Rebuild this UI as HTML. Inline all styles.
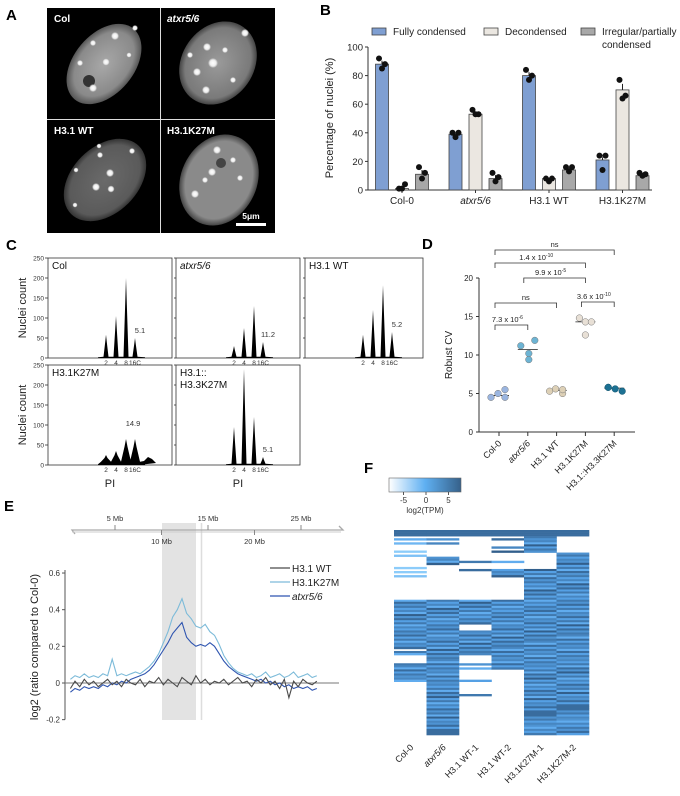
<!DOCTYPE html>
<html><head><meta charset="utf-8">
<style>
html,body{margin:0;padding:0;background:#fff;}
svg{display:block;font-family:"Liberation Sans",Arial,sans-serif;}
</style></head>
<body>
<svg id="fig" width="680" height="796" viewBox="0 0 680 796" xmlns="http://www.w3.org/2000/svg">
<defs>
<radialGradient id="nuc1" cx="50%" cy="50%" r="50%"><stop offset="0" stop-color="#a8a8a8"/><stop offset="0.8" stop-color="#8a8a8a"/><stop offset="1" stop-color="#555"/></radialGradient>
<radialGradient id="nuc2" cx="50%" cy="50%" r="50%"><stop offset="0" stop-color="#9a9a9a"/><stop offset="0.85" stop-color="#7a7a7a"/><stop offset="1" stop-color="#444"/></radialGradient>
<radialGradient id="nuc3" cx="50%" cy="50%" r="50%"><stop offset="0" stop-color="#6a6a6a"/><stop offset="0.85" stop-color="#5a5a5a"/><stop offset="1" stop-color="#333"/></radialGradient>
<radialGradient id="nuc4" cx="50%" cy="50%" r="50%"><stop offset="0" stop-color="#8a8a8a"/><stop offset="0.85" stop-color="#8a8a8a"/><stop offset="1" stop-color="#444"/></radialGradient>
<radialGradient id="spot" cx="50%" cy="50%" r="50%"><stop offset="0" stop-color="#fff"/><stop offset="0.6" stop-color="#eee"/><stop offset="1" stop-color="#fff" stop-opacity="0"/></radialGradient>
</defs>

<g font-weight="bold" font-size="15" fill="#000">
<text x="6" y="20">A</text>
<text x="320" y="15">B</text>
<text x="6" y="250">C</text>
<text x="422" y="249">D</text>
<text x="4" y="511">E</text>
<text x="364" y="473">F</text>
</g>

<g id="panelA">
<rect x="47" y="8" width="228" height="225" fill="#000"/>
<line x1="160.5" y1="8" x2="160.5" y2="233" stroke="#ddd" stroke-width="1"/>
<line x1="47" y1="119.5" x2="275" y2="119.5" stroke="#ddd" stroke-width="1"/>
<g>
<ellipse cx="104" cy="64" rx="30" ry="46" transform="rotate(40 104 64)" fill="url(#nuc1)"/>
<circle cx="89" cy="81" r="6" fill="#333"/>
<circle cx="93" cy="88" r="4" fill="url(#spot)"/><circle cx="115" cy="36" r="4" fill="url(#spot)"/><circle cx="106" cy="62" r="3.5" fill="url(#spot)"/><circle cx="93" cy="43" r="3" fill="url(#spot)"/><circle cx="80" cy="63" r="3" fill="url(#spot)"/><circle cx="135" cy="28" r="3" fill="url(#spot)"/><circle cx="129" cy="55" r="2.5" fill="url(#spot)"/>
<text x="54" y="22" fill="#fff" font-size="10" font-weight="bold">Col</text>
</g>
<g>
<ellipse cx="218" cy="63" rx="36" ry="44" transform="rotate(35 218 63)" fill="url(#nuc2)"/>
<circle cx="213" cy="63" r="5" fill="url(#spot)"/><circle cx="207" cy="47" r="4" fill="url(#spot)"/><circle cx="197" cy="72" r="4" fill="url(#spot)"/><circle cx="245" cy="33" r="4" fill="url(#spot)"/><circle cx="206" cy="90" r="4" fill="url(#spot)"/><circle cx="233" cy="80" r="3" fill="url(#spot)"/><circle cx="190" cy="55" r="3" fill="url(#spot)"/><circle cx="225" cy="50" r="3" fill="url(#spot)"/>
<text x="167" y="22" fill="#fff" font-size="10" font-weight="bold" font-style="italic">atxr5/6</text>
</g>
<g>
<ellipse cx="105" cy="180" rx="33" ry="48" transform="rotate(45 105 180)" fill="url(#nuc3)"/>
<circle cx="110" cy="173" r="4" fill="url(#spot)"/><circle cx="96" cy="187" r="4" fill="url(#spot)"/><circle cx="111" cy="189" r="3.5" fill="url(#spot)"/><circle cx="100" cy="155" r="3" fill="url(#spot)"/><circle cx="132" cy="151" r="3" fill="url(#spot)"/><circle cx="76" cy="170" r="2.5" fill="url(#spot)"/><circle cx="75" cy="205" r="2.5" fill="url(#spot)"/><circle cx="99" cy="146" r="2.5" fill="url(#spot)"/>
<text x="54" y="134" fill="#fff" font-size="10" font-weight="bold">H3.1 WT</text>
</g>
<g>
<ellipse cx="219" cy="180" rx="38" ry="47" transform="rotate(25 219 180)" fill="url(#nuc4)"/>
<circle cx="221" cy="163" r="5" fill="#444"/>
<circle cx="217" cy="150" r="4" fill="url(#spot)"/><circle cx="212" cy="172" r="4" fill="url(#spot)"/><circle cx="195" cy="194" r="4" fill="url(#spot)"/><circle cx="233" cy="160" r="3" fill="url(#spot)"/><circle cx="240" cy="178" r="3" fill="url(#spot)"/><circle cx="205" cy="180" r="3" fill="url(#spot)"/>
<text x="167" y="134" fill="#fff" font-size="10" font-weight="bold">H3.1K27M</text>
</g>
<rect x="236" y="223" width="30" height="3" fill="#fff"/>
<text x="251" y="219" fill="#fff" font-size="8.5" font-weight="bold" text-anchor="middle">5μm</text>
</g>

<g id="panelB"></g>
<g id="panelC"></g>
<g id="panelD"></g>
<g id="panelE"></g>
<g id="panelF"></g>
</svg>

<script>
const bGroups = ["Col-0", "atxr5/6", "H3.1 WT", "H3.1K27M"];
const bSeries = ["Fully condensed", "Decondensed", "Irregular/partially condensed"];
const bFully = [88, 39, 80, 21];
const bDecond = [1, 53, 8, 70];
const bIrreg = [11, 8, 14, 10];
const bFullyDots = [[92, 88, 85], [40, 40, 37], [84, 80, 77], [24, 24, 14]];
const bDecondDots = [[1, 4, 1], [56, 53, 53], [8, 8, 6], [77, 66, 64]];
const bIrregDots = [[16, 12, 8], [12, 9, 6], [16, 16, 13], [12, 11, 10]];
const bTicks = [0, 20, 40, 60, 80, 100];

const cSamples = ["Col", "atxr5/6", "H3.1 WT", "H3.1K27M", "H3.1::\nH3.3K27M"];
const cPeaks = [[58, 105, 200, 50], [30, 75, 130, 40], [58, 120, 182, 65], [25, 35, 65, 65], [95, 240, 120, 20]];
const cIndex = ["5.1", "11.2", "5.2", "14.9", "5.1"];
const cTicks = [0, 50, 100, 150, 200, 250];
const cPloidy = ["2", "4", "8", "16C"];

const dCats = ["Col-0", "atxr5/6", "H3.1 WT", "H3.1K27M", "H3.1::H3.3K27M"];
const dVals = [[4.5, 5.0, 5.5, 4.5], [11.2, 11.9, 10.2, 9.4], [5.3, 5.6, 5.0, 5.5], [14.8, 14.3, 14.3, 12.6], [5.8, 5.3, 5.6, 5.8]];
const dTicks = [0, 5, 10, 15, 20];
const dPvals = ["ns", "1.4 x 10", "9.9 x 10", "ns", "3.6 x 10", "7.3 x 10"];
const dPexp = ["", "-10", "-5", "", "-10", "-6"];

const eTicksMb = [5, 10, 15, 20, 25];
const eYTicks = [-0.2, 0, 0.2, 0.4, 0.6];
const eK27M = [0.02,0.04,0.03,0.05,0.03,0.04,0.03,0.05,0.04,0.13,0.04,0.05,0.04,0.05,0.06,0.05,0.07,0.09,0.12,0.16,0.22,0.28,0.36,0.40,0.46,0.38,0.35,0.31,0.30,0.32,0.28,0.26,0.21,0.15,0.11,0.08,0.06,0.05,0.04,0.05,0.03,0.04,0.06,0.03,0.04,0.05,0.03,0.04,0.06,0.03,0.04,0.05,0.03,0.04];
const eAtxr = [-0.05,-0.03,-0.04,-0.02,-0.03,-0.02,-0.03,-0.01,-0.02,0.0,-0.01,0.01,0.0,0.02,0.03,0.04,0.05,0.07,0.10,0.14,0.18,0.22,0.27,0.30,0.33,0.25,0.22,0.20,0.21,0.20,0.22,0.20,0.16,0.12,0.09,0.07,0.05,0.04,0.03,0.02,0.01,0.02,0.0,0.01,-0.01,0.0,-0.02,-0.01,-0.03,-0.02,-0.03,-0.02,-0.04,-0.03];
const eWT = [-0.03,0.01,-0.02,0.02,-0.01,0.01,-0.02,0.0,0.02,-0.01,0.01,-0.02,0.02,0.0,-0.01,0.02,-0.02,0.01,0.0,0.03,-0.01,0.02,0.0,-0.02,0.03,0.01,-0.01,0.04,0.0,0.02,-0.01,0.01,0.0,0.02,-0.01,0.01,0.03,0.0,0.01,-0.02,0.02,0.0,0.03,-0.01,0.01,-0.03,0.02,-0.08,0.01,-0.02,0.02,0.0,-0.01,0.01];
const eLegend = ["H3.1 WT", "H3.1K27M", "atxr5/6"];

const fCols = ["Col-0", "atxr5/6", "H3.1 WT-1", "H3.1 WT-2", "H3.1K27M-1", "H3.1K27M-2"];
const fShade = "8885746536475847563947563857465947385746395847364758473658473948576384756384756473859473648573946584";
const fSegCol0 = [[0,2],[4,4],[6,6],[10,10],[12,12],[18,18],[20,20],[22,22],[34,57],[59,60],[65,73]];
const fSegAtxr = [[0,2],[4,4],[6,6],[13,16],[34,99]];
const fSegWT1 = [[0,2],[15,15],[19,19],[34,45],[49,60],[65,65],[67,67],[73,73],[80,80]];
const fSegWT2 = [[0,2],[4,4],[8,8],[10,10],[15,15],[19,22],[34,63],[64,67]];
const fSegK1 = [[0,10],[19,99]];
const fSegK2 = [[0,2],[11,99]];
const fCbTicks = [-5, 0, 5];

const NS = "http://www.w3.org/2000/svg";
function mk(parent, tag, attrs, text) {
  const e = document.createElementNS(NS, tag);
  for (const k in attrs) e.setAttribute(k, attrs[k]);
  if (text !== undefined) e.textContent = text;
  parent.appendChild(e);
  return e;
}

(function () {
  const g = document.getElementById('panelB');
  const x0 = 368, x1 = 652, yB = 190, yT = 47;
  const y = v => yB - (v / 100) * (yB - yT);
  const cx = i => 402 + i * 73.5;
  const colors = ["#7f9fd2", "#ebe7e1", "#a8a8a8"];
  const vals = [bFully, bDecond, bIrreg];
  const dots = [bFullyDots, bDecondDots, bIrregDots];
  const off = [-20, 0, 20];
  let a = mk(g, 'line', { x1: x0, y1: yT, x2: x0, y2: yB, stroke: '#333', 'stroke-width': 1 });
   
  a = mk(g, 'line', { x1: x0, y1: yB, x2: x1, y2: yB, stroke: '#333', 'stroke-width': 1 });
   
  bTicks.forEach(t => {
    mk(g, 'line', { x1: x0 - 3, y1: y(t), x2: x0, y2: y(t), stroke: '#333' });
    const tl = mk(g, 'text', { x: x0 - 5, y: y(t) + 3.5, 'font-size': 9.5, 'text-anchor': 'end', fill: '#222' }, t);
     
  });
  const yl = mk(g, 'text', { x: 0, y: 0, 'font-size': 11, 'text-anchor': 'middle', fill: '#222', transform: 'translate(333,118) rotate(-90)' }, 'Percentage of nuclei (%)');
   
  bGroups.forEach((name, i) => {
    mk(g, 'line', { x1: cx(i), y1: yB, x2: cx(i), y2: yB + 3, stroke: '#333' });
    const t = mk(g, 'text', { x: cx(i), y: yB + 14, 'font-size': 10, 'text-anchor': 'middle', fill: '#222', 'font-style': i === 1 ? 'italic' : 'normal' }, name);
     
    for (let s = 0; s < 3; s++) {
      const v = vals[s][i];
      const bx = cx(i) + off[s] - 6.5;
      const r = mk(g, 'rect', { x: bx, y: y(v), width: 13, height: yB - y(v), fill: colors[s], stroke: '#444', 'stroke-width': 0.8 });
       
      const ds = dots[s][i];
      const mx = Math.max(...ds);
      mk(g, 'line', { x1: cx(i) + off[s], y1: y(v), x2: cx(i) + off[s], y2: y(Math.min(100, v + (mx - v) * 0.6)), stroke: '#222' });
      ds.forEach((d, k) => {
        const c = mk(g, 'circle', { cx: cx(i) + off[s] + [-3, 3, 0][k], cy: y(d), r: 3, fill: '#111' });
         
      });
    }
  });
  const lx = [372, 484, 581];
  bSeries.forEach((s, k) => {
    const lg = mk(g, 'g', {});
     
    mk(lg, 'rect', { x: lx[k], y: 28, width: 14, height: 7, fill: colors[k], stroke: '#444', 'stroke-width': 0.8 });
    if (k < 2) mk(lg, 'text', { x: lx[k] + 21, y: 35, 'font-size': 10, fill: '#222' }, s);
    else { mk(lg, 'text', { x: lx[k] + 21, y: 35, 'font-size': 10, fill: '#222' }, 'Irregular/partially'); mk(lg, 'text', { x: lx[k] + 21, y: 48, 'font-size': 10, fill: '#222' }, 'condensed'); }
  });
})();

(function () {
  const g = document.getElementById('panelC');
  const boxes = [[48, 258], [176, 258], [305, 258], [48, 365], [176, 365]];
  const W = 124, H = 100;
  const peakOff = [58, 68, 78, 87];
  boxes.forEach(([bx, by], i) => {
    const sg = mk(g, 'g', {});
     
    const w = i === 2 ? 118 : W;
    mk(sg, 'rect', { x: bx, y: by, width: w, height: H, fill: 'none', stroke: '#333', 'stroke-width': 0.8 });
    const yv = v => by + H - (v / 250) * H;
    const broad = i === 3;
    const hw = broad ? 5 : 2.5;
    let d = `M${bx + peakOff[0] - 8},${by + H} L${bx + peakOff[0] - 8},${yv(2)} `;
    cPeaks[i].forEach((h, k) => {
      const p = bx + peakOff[k];
      d += `L${p - hw},${yv(broad ? 8 : 3)} L${p - hw * 0.3},${yv(h * 0.7)} L${p},${yv(h)} L${p + hw * 0.3},${yv(h * 0.7)} L${p + hw},${yv(broad ? 8 : 3)} `;
    });
    if (broad) d += `L${bx + 96},${yv(10)} L${bx + 100},${yv(20)} L${bx + 104},${yv(15)} L${bx + 108},${yv(5)} `;
    d += `L${bx + peakOff[3] + 10},${yv(2)} L${bx + peakOff[3] + 10},${by + H} Z`;
    const pk = mk(sg, 'path', { d: d, fill: '#000' });
     
    const lbl = cSamples[i].split('\n');
    lbl.forEach((l, k) => mk(sg, 'text', { x: bx + 4, y: by + 11 + k * 12, 'font-size': 10, fill: '#111', 'font-style': i === 1 ? 'italic' : 'normal' }, l));
    const pi = 3;
    const ix = mk(sg, 'text', { x: bx + peakOff[pi] + (i === 3 ? -2 : 5), y: yv(cPeaks[i][pi]) - 5 - (i === 3 ? 8 : 0), 'font-size': 7.5, fill: '#333', 'text-anchor': 'middle' }, cIndex[i]);
     
    cPloidy.forEach((p, k) => mk(sg, 'text', { x: bx + peakOff[k], y: by + H + 7, 'font-size': 6.5, fill: '#333', 'text-anchor': 'middle' }, p));
    if (i === 0 || i === 3) {
      cTicks.forEach(t => {
        mk(sg, 'line', { x1: bx - 3, y1: yv(t), x2: bx, y2: yv(t), stroke: '#333', 'stroke-width': 0.8 });
        mk(sg, 'text', { x: bx - 4, y: yv(t) + 2.5, 'font-size': 6.5, fill: '#333', 'text-anchor': 'end' }, t);
      });
      const yt = mk(sg, 'text', { x: 0, y: 0, 'font-size': 11, 'text-anchor': 'middle', fill: '#222', transform: `translate(26,${by + 50}) rotate(-90)` }, 'Nuclei count');
       
    } else {
      cTicks.forEach(t => mk(sg, 'line', { x1: bx - 2, y1: yv(t), x2: bx, y2: yv(t), stroke: '#333', 'stroke-width': 0.8 }));
    }
    if (i >= 3) {
      const xt = mk(sg, 'text', { x: bx + 62, y: by + H + 22, 'font-size': 11, fill: '#222', 'text-anchor': 'middle' }, 'PI');
       
    }
  });
})();

(function () {
  const g = document.getElementById('panelD');
  const x0 = 479, x1 = 635, y0 = 432, y20 = 278;
  const y = v => y0 - (v / 20) * (y0 - y20);
  const cx = i => 499 + i * 28.8;
  const colors = ["#9ab5e0", "#6db4d4", "#ddd0b6", "#e8e0d6", "#1d7193"];
  const offs = [[-8, -1, 6, 6], [-7, 7, 1, 1], [-7, -1, 6, 6], [-6, 0, 6, 0], [-6, 8, 1, -6]];
  let a = mk(g, 'line', { x1: x0, y1: y20, x2: x0, y2: y0, stroke: '#333' });
   
  a = mk(g, 'line', { x1: x0, y1: y0, x2: x1, y2: y0, stroke: '#333' });
   
  dTicks.forEach(t => {
    mk(g, 'line', { x1: x0 - 3, y1: y(t), x2: x0, y2: y(t), stroke: '#333' });
    mk(g, 'text', { x: x0 - 6, y: y(t) + 3, 'font-size': 8, 'text-anchor': 'end', fill: '#222' }, t);
  });
  const yl = mk(g, 'text', { x: 0, y: 0, 'font-size': 10, 'text-anchor': 'middle', fill: '#222', transform: 'translate(452,355) rotate(-90)' }, 'Robust CV');
   
  dCats.forEach((c, i) => {
    mk(g, 'line', { x1: cx(i), y1: y0, x2: cx(i), y2: y0 + 4, stroke: '#333' });
    const t = mk(g, 'text', { x: 0, y: 0, 'font-size': 9, 'text-anchor': 'end', fill: '#222', 'font-style': i === 1 ? 'italic' : 'normal', transform: `translate(${cx(i) + 3},${y0 + 12}) rotate(-45)` }, c);
     
    const vs = dVals[i];
    const sorted = [...vs].sort((p, q) => p - q);
    const med = (sorted[1] + sorted[2]) / 2;
    mk(g, 'line', { x1: cx(i) - 10, y1: y(med), x2: cx(i) + 10, y2: y(med), stroke: '#222', 'stroke-width': 0.8 });
    vs.forEach((v, k) => {
      const p = mk(g, 'circle', { cx: cx(i) + offs[i][k], cy: y(v), r: 3.3, fill: colors[i], stroke: i === 4 ? '#14566f' : '#777', 'stroke-width': 0.5 });
       
    });
  });
  const br = [[0, 4, 250], [0, 3, 263], [1, 3, 278], [0, 2, 303], [3, 4, 302], [0, 1, 325]];
  br.forEach(([f, t, yy], k) => {
    const bg = mk(g, 'g', {});
     
    const xa = cx(f) - 4, xb = cx(t);
    mk(bg, 'path', { d: `M${xa},${yy + 5} L${xa},${yy} L${xb},${yy} L${xb},${yy + 5}`, fill: 'none', stroke: '#333', 'stroke-width': 0.8 });
    const tx = mk(bg, 'text', { x: (xa + xb) / 2 - (dPexp[k] ? 4 : 0), y: yy - 3, 'font-size': 7.5, fill: '#222', 'text-anchor': 'middle' }, dPvals[k]);
    if (dPexp[k]) { mk(tx, 'tspan', { 'font-size': 5, dy: -3 }, dPexp[k]); }
  });
})();

(function () {
  const g = document.getElementById('panelE');
  const mbx = mb => 68.5 + mb * 9.3;
  const yA = 530;
  const sh = mk(g, 'rect', { x: 162, y: 523, width: 34, height: 197, fill: '#e3e3e3' });
   
  mk(g, 'line', { x1: 201.5, y1: 523, x2: 201.5, y2: 720, stroke: '#ddd', 'stroke-width': 1.5 });
  const rl = mk(g, 'path', { d: `M75,${yA + 4} L72,${yA} L343,${yA} L339,${yA - 4}`, fill: 'none', stroke: '#aaa', 'stroke-width': 1.3 });
   
  mk(g, 'line', { x1: 72, y1: yA + 2, x2: 341, y2: yA + 2, stroke: '#ccc', 'stroke-width': 1 });
  eTicksMb.forEach((t, k) => {
    const up = k % 2 === 0;
    mk(g, 'line', { x1: mbx(t), y1: up ? yA - 5 : yA, x2: mbx(t), y2: up ? yA : yA + 5, stroke: '#888' });
    mk(g, 'text', { x: mbx(t), y: up ? yA - 9 : yA + 14, 'font-size': 7.5, fill: '#333', 'text-anchor': 'middle' }, t + ' Mb');
  });
  const y = v => 683 - v * 183.3;
  const ax = mk(g, 'line', { x1: 65, y1: y(0.6) - 3, x2: 65, y2: y(-0.2), stroke: '#555' });
   
  mk(g, 'line', { x1: 65, y1: y(0), x2: 339, y2: y(0), stroke: '#777' });
  eYTicks.forEach(t => {
    mk(g, 'line', { x1: 62, y1: y(t), x2: 65, y2: y(t), stroke: '#555' });
    mk(g, 'text', { x: 60, y: y(t) + 3, 'font-size': 8, fill: '#333', 'text-anchor': 'end' }, t === 0 ? '0' : t.toFixed(1));
  });
  const yl = mk(g, 'text', { x: 0, y: 0, 'font-size': 11, 'text-anchor': 'middle', fill: '#222', transform: 'translate(38,647) rotate(-90)' }, 'log2 (ratio compared to Col-0)');
   
  const series = [[eK27M, '#7dbbd9', 'line-h31k27m'], [eAtxr, '#2f55b0', 'line-atxr56'], [eWT, '#4a4a4a', 'line-h31wt']];
  series.forEach(([arr, col, nm]) => {
    const pts = arr.map((v, i) => `${mbx(0.2 + i * 0.5).toFixed(1)},${y(v).toFixed(1)}`).join(' ');
    const pl = mk(g, 'polyline', { points: pts, fill: 'none', stroke: col, 'stroke-width': 1.1 });
     
  });
  const lc = ['#4a4a4a', '#7dbbd9', '#2f55b0'];
  eLegend.forEach((l, k) => {
    const lg = mk(g, 'g', {});
     
    mk(lg, 'line', { x1: 270, y1: 568 + k * 14, x2: 290, y2: 568 + k * 14, stroke: lc[k], 'stroke-width': 1.3 });
    mk(lg, 'text', { x: 292, y: 572 + k * 14, 'font-size': 10, fill: '#222', 'font-style': k === 2 ? 'italic' : 'normal' }, l);
  });
})();

(function () {
  const g = document.getElementById('panelF');
  const light = [140, 204, 250], mid = [88, 165, 235], dark = [50, 95, 140];
  function colorFor(s) {
    const t = s / 9;
    const lerp = (a, b, u) => a.map((c, i) => Math.round(c + (b[i] - c) * u));
    const c = t < 0.4 ? lerp(light, mid, t / 0.4) : lerp(mid, dark, (t - 0.4) / 0.6);
    return `rgb(${c[0]},${c[1]},${c[2]})`;
  }
  const grad = mk(document.querySelector('defs'), 'linearGradient', { id: 'cbg', x1: 0, x2: 1, y1: 0, y2: 0 });
  mk(grad, 'stop', { offset: 0, 'stop-color': '#ffffff' });
  mk(grad, 'stop', { offset: 0.5, 'stop-color': '#5fb0f2' });
  mk(grad, 'stop', { offset: 1, 'stop-color': '#36618a' });
  const cb = mk(g, 'rect', { x: 389, y: 478, width: 72, height: 14, fill: 'url(#cbg)', stroke: '#666', 'stroke-width': 0.6 });
   
  const cbx = v => 426 + v * 4.5;
  fCbTicks.forEach(t => {
    mk(g, 'line', { x1: cbx(t), y1: 492, x2: cbx(t), y2: 495, stroke: '#555' });
    mk(g, 'text', { x: cbx(t), y: 503, 'font-size': 8, fill: '#333', 'text-anchor': 'middle' }, t);
  });
  mk(g, 'text', { x: 425, y: 513, 'font-size': 8, fill: '#333', 'text-anchor': 'middle' }, 'log2(TPM)');
  const segs = [fSegCol0, fSegAtxr, fSegWT1, fSegWT2, fSegK1, fSegK2];
  const x0 = 394, cw = 32.5, y0 = 530, rh = 2.05;
  segs.forEach((sl, c) => {
    const cg = mk(g, 'g', {});
     
    sl.forEach(([a, b]) => {
      for (let r = a; r <= b; r++) {
        let s = parseInt(fShade[(r + c * 3) % fShade.length]);
        if (r < 3) s = 8;
        if (c === 0 && r < 34 && r > 2) s = Math.max(0, s - 4);
        mk(cg, 'rect', { x: x0 + c * cw, y: (y0 + r * rh).toFixed(2), width: cw + 0.3, height: rh + 0.3, fill: colorFor(s) });
      }
    });
    const t = mk(g, 'text', { x: 0, y: 0, 'font-size': 9, 'text-anchor': 'end', fill: '#222', 'font-style': c === 1 ? 'italic' : 'normal', transform: `translate(${x0 + c * cw + 20},${748}) rotate(-45)` }, fCols[c]);
     
  });
})();
</script>
</body></html>
